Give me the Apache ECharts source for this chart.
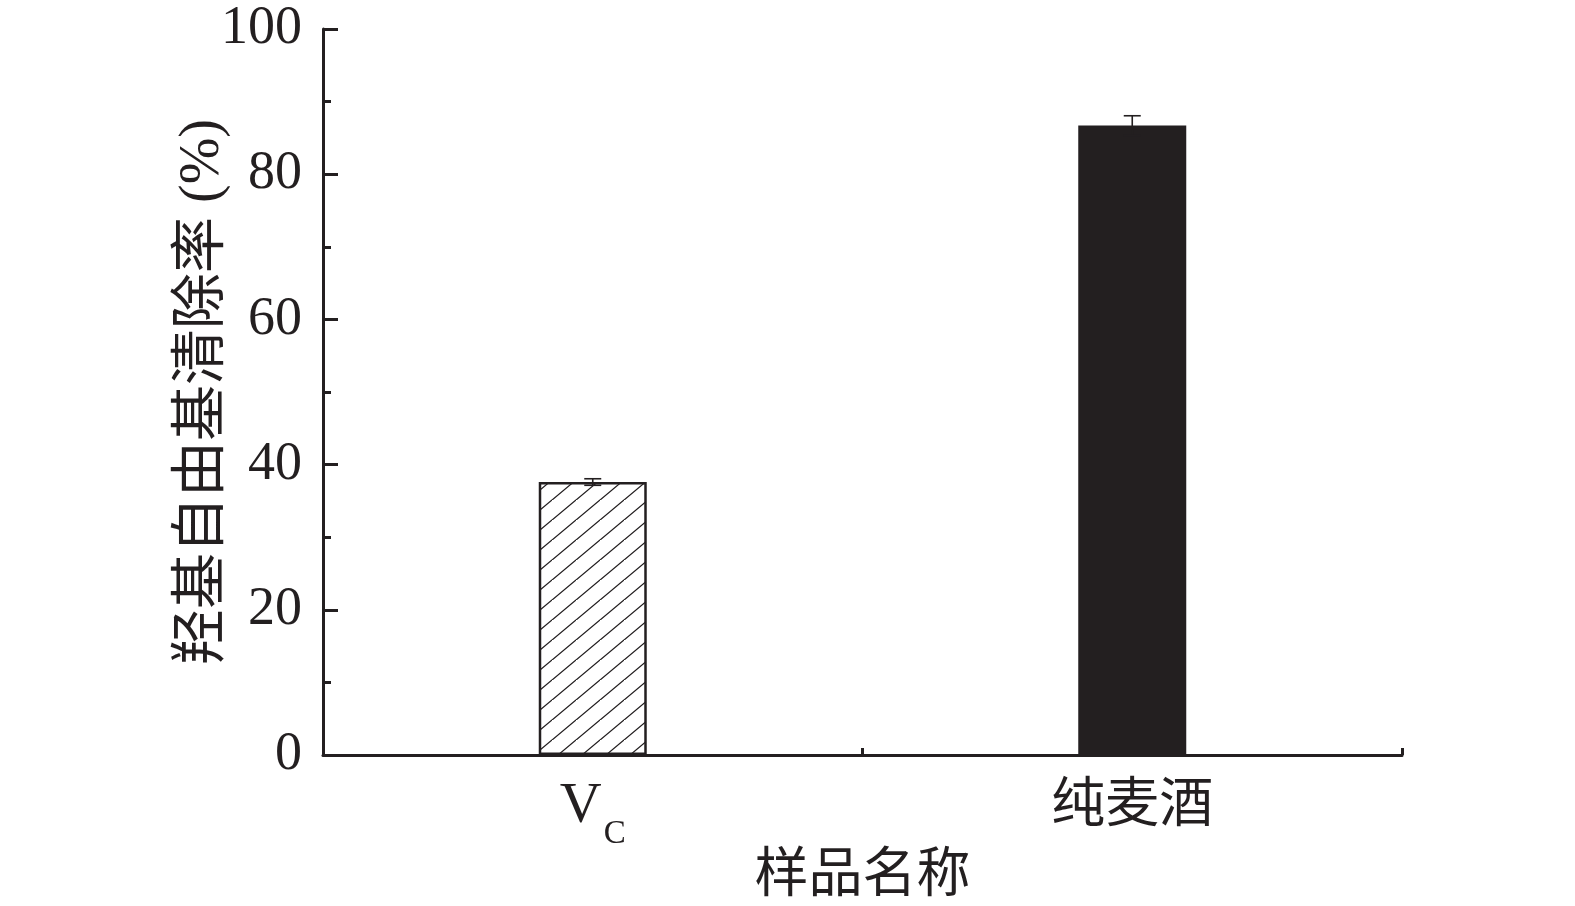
<!DOCTYPE html>
<html>
<head>
<meta charset="utf-8">
<script src="https://cdn.jsdelivr.net/npm/echarts@6/dist/echarts.min.js"></script>
<style>
html,body{margin:0;padding:0;background:#fff;}
#chart{width:1575px;height:906px;}
</style>
</head>
<body>
<div id="chart"></div>
<script>
// ---- data ----
const categories = ['V_C', '纯麦酒'];
const values = [37.6, 86.7];
const errors = [0.45, 1.35];
const yMin = 0, yMax = 100, yInterval = 20;
const xAxisName = '样品名称';
const yAxisName = '羟基自由基清除率 (%)';

// ---- styles ----
const INK = '#231f20';
const SERIF = '"Liberation Serif", "Times New Roman", "Noto Sans CJK SC", serif';

function hatchTile() {
  const w = 24, h = 20;
  const c = document.createElement('canvas');
  c.width = w; c.height = h;
  const ctx = c.getContext('2d');
  ctx.fillStyle = '#fff';
  ctx.fillRect(0, 0, w, h);
  ctx.strokeStyle = INK;
  ctx.lineWidth = 1.3;
  ctx.beginPath();
  ctx.moveTo(-w, 2 * h); ctx.lineTo(2 * w, -h);
  ctx.moveTo(-2 * w, 3 * h); ctx.lineTo(w, 0);
  ctx.moveTo(0, 2 * h); ctx.lineTo(3 * w, -h);
  ctx.stroke();
  return c;
}

const barStyles = [
  { color: { image: hatchTile(), repeat: 'repeat' }, borderColor: INK, borderWidth: 2.5 },
  { color: INK, borderColor: INK, borderWidth: 0 }
];

const chart = echarts.init(document.getElementById('chart'), null, { renderer: 'canvas' });

const option = {
  animation: false,
  backgroundColor: '#fff',
  grid: { left: 323, right: 173, top: 29, bottom: 151, containLabel: false, outerBoundsMode: 'none' },
  xAxis: {
    type: 'category',
    data: categories,
    name: xAxisName,
    nameLocation: 'middle',
    nameGap: 96,
    nameMoveOverlap: false,
    nameTextStyle: { fontFamily: SERIF, fontSize: 54, color: INK },
    axisLine: { lineStyle: { color: INK, width: 3 } },
    axisTick: { show: true, inside: true, length: 7, alignWithLabel: false, lineStyle: { color: INK, width: 3 } },
    axisLabel: {
      margin: 23,
      color: INK,
      formatter: function (v) {
        if (v === 'V_C') return '{v|V}{c|C}';
        return '{z|' + v + '}';
      },
      rich: {
        v: { fontFamily: SERIF, fontSize: 58, color: INK, lineHeight: 60, verticalAlign: 'top' },
        c: { fontFamily: SERIF, fontSize: 33, color: INK, lineHeight: 33, padding: [40, 0, 0, 2], verticalAlign: 'top' },
        z: { fontFamily: SERIF, fontSize: 54, color: INK, lineHeight: 60 }
      }
    },
    splitLine: { show: false }
  },
  yAxis: {
    type: 'value',
    min: yMin, max: yMax, interval: yInterval,
    name: yAxisName,
    nameLocation: 'middle',
    nameGap: 92,
    nameMoveOverlap: false,
    nameRotate: 90,
    nameTextStyle: { fontFamily: SERIF, fontSize: 56, color: INK },
    axisLine: { show: true, lineStyle: { color: INK, width: 3 } },
    axisTick: { show: true, inside: true, length: 15, lineStyle: { color: INK, width: 3 } },
    minorTick: { show: true, splitNumber: 2, length: 8, lineStyle: { color: INK, width: 3 } },
    axisLabel: { margin: 21, fontFamily: SERIF, fontSize: 54, color: INK },
    splitLine: { show: false }
  },
  series: [
    {
      type: 'bar',
      barWidth: 108,
      data: values.map((v, i) => ({ value: v, itemStyle: barStyles[i] })),
      z: 2
    },
    {
      type: 'custom',
      z: 5,
      data: categories.map((c, i) => [i, values[i] - errors[i], values[i] + errors[i]]),
      renderItem: function (params, api) {
        const lo = api.coord([api.value(0), api.value(1)]);
        const hi = api.coord([api.value(0), api.value(2)]);
        const hw = 8.5;
        const st = { stroke: INK, lineWidth: 1.6 };
        return {
          type: 'group',
          children: [
            { type: 'line', shape: { x1: hi[0], y1: hi[1], x2: lo[0], y2: lo[1] }, style: st },
            { type: 'line', shape: { x1: hi[0] - hw, y1: hi[1], x2: hi[0] + hw, y2: hi[1] }, style: st },
            { type: 'line', shape: { x1: lo[0] - hw, y1: lo[1], x2: lo[0] + hw, y2: lo[1] }, style: st }
          ]
        };
      }
    }
  ]
};
chart.setOption(option);
</script>
</body>
</html>
